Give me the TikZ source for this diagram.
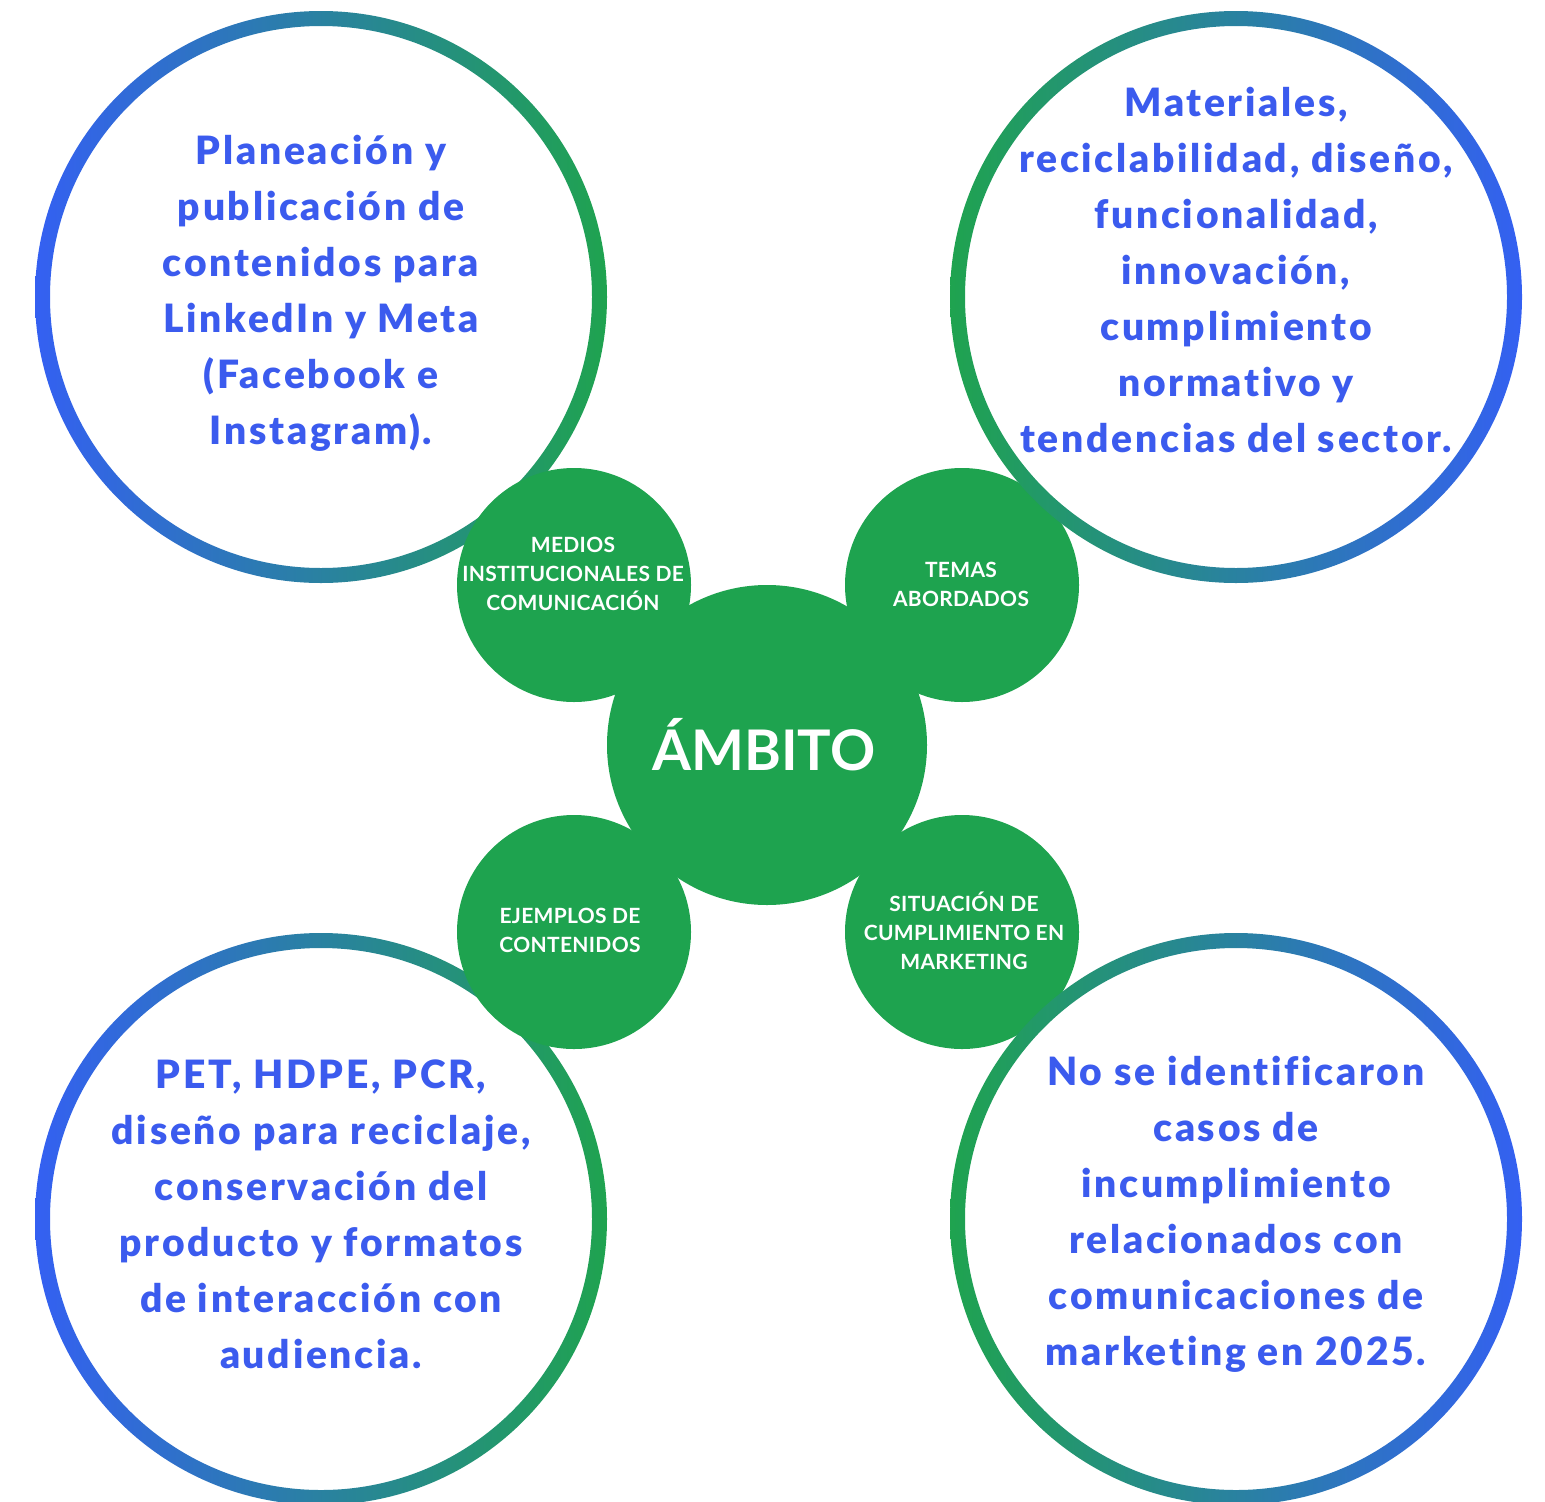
\documentclass[tikz,border=0pt]{standalone}
\usepackage{fontspec}
\setmainfont{Lato}
\newfontfamily\bluefont{Lato Black}[LetterSpace=7, Ligatures=NoCommon]
\newfontfamily\labelfont{Lato}[LetterSpace=1.5, Ligatures=NoCommon]
\definecolor{ringblue}{HTML}{3460F2}
\definecolor{ringgreen}{HTML}{1FA34F}
\definecolor{hubgreen}{HTML}{1EA34F}
\definecolor{textblue}{HTML}{3B5BEE}
\tikzset{
  ringLR/.style={left color=ringblue, right color=ringgreen, even odd rule},
  ringRL/.style={left color=ringgreen, right color=ringblue, even odd rule},
  hub/.style={circle, fill=hubgreen, inner sep=0pt, minimum size=234pt},
  core/.style={circle, fill=hubgreen, inner sep=0pt, minimum size=320pt},
  hublabel/.style={text=white, font=\labelfont\bfseries\fontsize{21}{29}\selectfont, align=center, inner sep=0pt},
  body/.style={text=textblue, font=\bluefont\fontsize{39}{56}\selectfont, align=center, inner sep=0pt},
}
\begin{document}
\begin{tikzpicture}[x=1pt,y=-1pt]
\useasboundingbox (0,0) rectangle (1545,1502);
% rings on the left (below the green circles)
\shade[ringLR] (321,297) circle[radius=286pt] (321,297) circle[radius=271pt];
\shade[ringLR] (321,1219) circle[radius=286pt] (321,1219) circle[radius=271pt];
% green circles
\node[core] (core) at (767,745) {};
\node[hub] (medios) at (574,585) {};
\node[hub] (temas) at (962,585) {};
\node[hub] (ejemplos) at (574,932) {};
\node[hub] (situacion) at (962,932) {};
% rings on the right (above the green circles)
\shade[ringRL] (1236,297) circle[radius=286pt] (1236,297) circle[radius=271pt];
\shade[ringRL] (1236,1219) circle[radius=286pt] (1236,1219) circle[radius=271pt];
% labels
\node[text=white, font=\bfseries\fontsize{56}{56}\selectfont, inner sep=0pt] (ambito) at (764,745) {ÁMBITO};
\node[hublabel] (tmedios) at (573,574) {MEDIOS\\INSTITUCIONALES DE\\COMUNICACIÓN};
\node[hublabel] (ttemas) at (961,584) {TEMAS\\ABORDADOS};
\node[hublabel] (tejemplos) at (570,930) {EJEMPLOS DE\\CONTENIDOS};
\node[hublabel] (tsituacion) at (964,931) {SITUACIÓN DE\\CUMPLIMIENTO EN\\MARKETING};
% body texts
\node[body] (tl) at (321,293) {Planeación y\\publicación de\\contenidos para\\LinkedIn y Meta\\(Facebook e\\Instagram).};
\node[body] (tr) at (1236,270) {Materiales,\\reciclabilidad, diseño,\\funcionalidad,\\innovación,\\cumplimiento\\normativo y\\tendencias del sector.};
\node[body] (bl) at (321,1214) {PET, HDPE, PCR,\\diseño para reciclaje,\\conservación del\\producto y formatos\\de interacción con\\audiencia.};
\node[body] (br) at (1236,1214) {No se identificaron\\casos de\\incumplimiento\\relacionados con\\comunicaciones de\\marketing en 2025.};
\end{tikzpicture}
\end{document}
